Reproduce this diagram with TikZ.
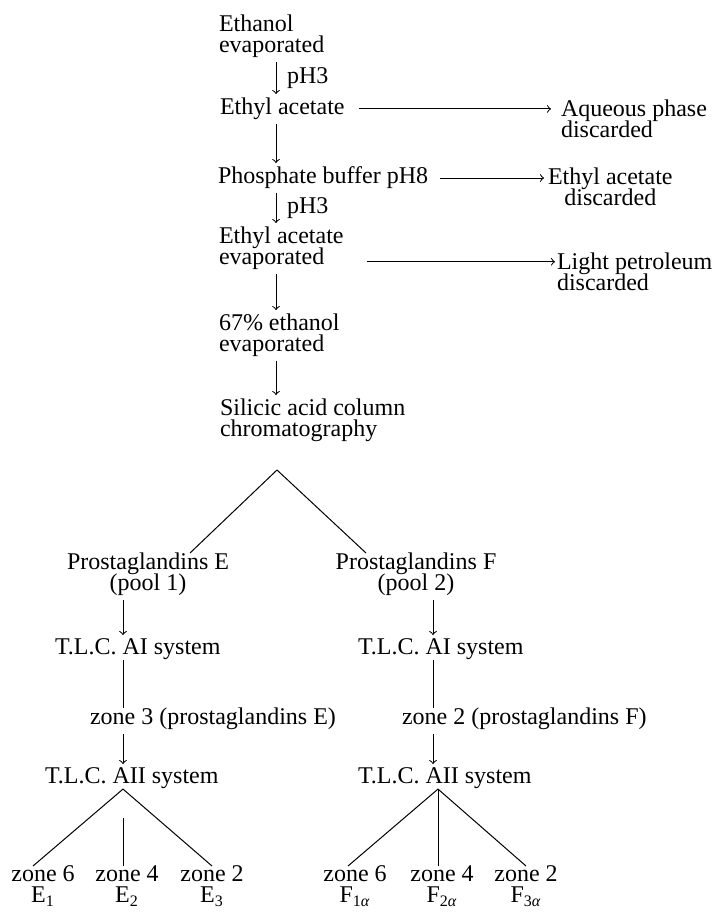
\documentclass[tikz,border=0pt]{standalone}
\usepackage{fontspec}
\setmainfont{Liberation Serif}
\usetikzlibrary{calc}
\lineskiplimit=-10pt

\begin{document}
\begin{tikzpicture}[x=0.5pt, y=-0.5pt, line width=0.5pt,
    txt/.style={inner sep=0pt, outer sep=0pt, font=\fontsize{12}{10.5}\selectfont},
    zone/.style={txt, anchor=north, align=center},
    flow/.style={->, shorten >=2pt, shorten <=2pt}]
    \useasboundingbox (0,0) rectangle (716,914);

    % extraction steps
    \coordinate (spine) at (276,0);
    \node[txt, anchor=north west, align=left] (eth) at (219,15) {Ethanol\\evaporated};
    \node[txt, anchor=north west] (ea1) at (220,98) {Ethyl acetate};
    \node[txt, anchor=north west] (pb) at (218,167) {Phosphate buffer pH8};
    \node[txt, anchor=north west, align=left] (ea2) at (219,227) {Ethyl acetate\\evaporated};
    \node[txt, anchor=north west, align=left] (et67) at (219,314) {67\% ethanol\\evaporated};
    \node[txt, anchor=north west, align=left] (sil) at (220,399) {Silicic acid column\\chromatography};

    % what gets thrown away
    \node[txt, anchor=north west, align=left] (aq) at (561,100) {Aqueous phase\\discarded};
    \node[txt, anchor=north west, align=center] (ea3) at (548,168) {Ethyl acetate\\discarded};
    \node[txt, anchor=north west, align=left] (lp) at (557,253) {Light petroleum\\discarded};

    \draw[flow] (eth.south -| spine) -- node[txt, right=5.5pt] (ph1) {pH3} (ea1.north -| spine);
    \draw[flow] (ea1.south -| spine) -- (pb.north -| spine);
    \draw[flow] (pb.south -| spine) -- node[txt, right=5.5pt] (ph2) {pH3} (ea2.north -| spine);
    \draw[flow] (ea2.south -| spine) -- (et67.north -| spine);
    \draw[flow] (et67.south -| spine) -- (sil.north -| spine);

    \draw[flow, shorten >=5pt] ($(ea1.east)+(10,0)$) -- (ea1.east -| aq.west);
    \draw[flow] ($(pb.east)+(8,0)$) -- (pb.east -| ea3.west);
    \coordinate (evap) at ($(ea2.south east)+(19,-8)$);
    \draw[flow, shorten >=1pt] (evap) -- (evap -| lp.west);

    % column gives two pools
    \coordinate (split) at (277,470);
    \node[txt, anchor=north, align=center] (pe) at (148,553) {Prostaglandins E\\(pool 1)};
    \node[txt, anchor=north, align=center] (pf) at (416,553) {Prostaglandins F\\(pool 2)};
    \draw (split) -- ($(pe.north)+(42,0)$);
    \draw (split) -- ($(pf.north)+(-50,0)$);

    % pool 1
    \coordinate (lspine) at (123,0);
    \node[txt, anchor=north west] (tlc1e) at (55,639) {T.L.C. AI system};
    \node[txt, anchor=north west] (z3e) at (90,708) {zone 3 (prostaglandins E)};
    \node[txt, anchor=north west] (tlc2e) at (45,768) {T.L.C. AII system};
    \draw[flow] (pe.south -| lspine) -- (tlc1e.north -| lspine);
    \draw (tlc1e.south -| lspine) -- (z3e.north -| lspine);
    \draw[flow] (z3e.south -| lspine) -- (tlc2e.north -| lspine);

    \node[zone] (z6e) at (43,866) {zone 6\\E\textsubscript{1}};
    \node[zone] (z4e) at (127,866) {zone 4\\E\textsubscript{2}};
    \node[zone] (z2e) at (212,866) {zone 2\\E\textsubscript{3}};
    \coordinate (forkE) at (tlc2e.south -| lspine);
    \coordinate (midE) at (forkE |- z4e.north);
    \draw ($(z6e.north)+(-10,0)$) -- (forkE) -- (z2e.north);
    \draw ($(forkE)!0.37!(midE)$) -- (midE);

    % pool 2
    \coordinate (rspine) at (433,0);
    \node[txt, anchor=north west] (tlc1f) at (358,639) {T.L.C. AI system};
    \node[txt, anchor=north west] (z2f) at (402,708) {zone 2 (prostaglandins F)};
    \node[txt, anchor=north west] (tlc2f) at (358,768) {T.L.C. AII system};
    \draw[flow] (pf.south -| rspine) -- (tlc1f.north -| rspine);
    \draw (tlc1f.south -| rspine) -- (z2f.north -| rspine);
    \draw[flow] (z2f.south -| rspine) -- (tlc2f.north -| rspine);

    \node[zone] (z6f) at (355,866) {zone 6\\F\textsubscript{1\textit{α}}};
    \node[zone] (z4f) at (442,866) {zone 4\\F\textsubscript{2\textit{α}}};
    \node[zone] (z2ff) at (526,866) {zone 2\\F\textsubscript{3\textit{α}}};
    \coordinate (forkF) at ($(tlc2f.south -| rspine)+(5,0)$);
    \draw ($(z6f.north)+(-7,0)$) -- (forkF) -- (z2ff.north);
    \draw (forkF) -- (forkF |- z4f.north);

\end{tikzpicture}
\end{document}
